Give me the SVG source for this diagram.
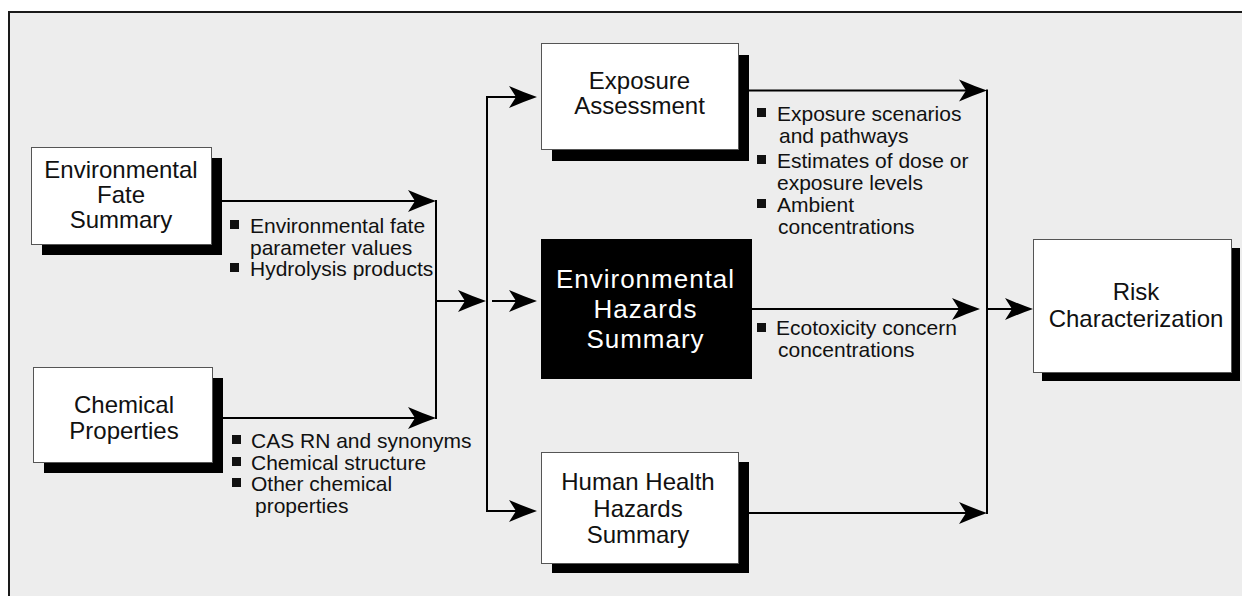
<svg xmlns="http://www.w3.org/2000/svg" width="1242" height="596" viewBox="0 0 1242 596">
  <style>
    .frame { fill: #ededed; stroke: #1a1a1a; stroke-width: 2; }
    .box { fill: #ffffff; stroke: #555555; stroke-width: 1; }
    .shadow { fill: #000000; }
    .dark { fill: #000000; }
    .title { font-family: "Liberation Sans", Arial, Helvetica, sans-serif; font-size: 24px; fill: #111111; text-anchor: middle; }
    .title-inv { font-family: "Liberation Sans", Arial, Helvetica, sans-serif; font-size: 26px; letter-spacing: 1px; fill: #ffffff; text-anchor: middle; }
    .label { font-family: "Liberation Sans", Arial, Helvetica, sans-serif; font-size: 21px; fill: #111111; }
    .bullet { fill: #111111; }
    .wire { fill: none; stroke: #000000; stroke-width: 2; }
  </style>
  <defs>
    <!-- barbed arrowhead; the tip sits 8px past the end of the line -->
    <marker id="arrow" markerUnits="userSpaceOnUse" viewBox="-21 -12 30 24" refX="0" refY="0" markerWidth="30" markerHeight="24" orient="auto">
      <path d="M8,0 Q-5,-4.5 -20,-11 L-13,0 L-20,11 Q-5,4.5 8,0 Z" fill="#000000"/>
    </marker>
  </defs>

  <!-- page background and frame -->
  <rect class="frame" x="9" y="12" width="1245" height="600"/>

  <!-- connectors -->
  <g id="connectors">
    <path class="wire" d="M222,201 H428" marker-end="url(#arrow)"/>
    <path class="wire" d="M223,418 H428" marker-end="url(#arrow)"/>
    <path class="wire" d="M436,200 V419"/>
    <path class="wire" d="M436,301 H478" marker-end="url(#arrow)"/>
    <path class="wire" d="M487,96 V512"/>
    <path class="wire" d="M486,97 H529" marker-end="url(#arrow)"/>
    <path class="wire" d="M486,511 H529" marker-end="url(#arrow)"/>
    <path class="wire" d="M492,301 H529" marker-end="url(#arrow)"/>
    <path class="wire" d="M749,90.5 H979" marker-end="url(#arrow)"/>
    <path class="wire" d="M752,309 H972" marker-end="url(#arrow)"/>
    <path class="wire" d="M749,513 H979" marker-end="url(#arrow)"/>
    <path class="wire" d="M987,89.5 V514"/>
    <path class="wire" d="M986,309 H1025" marker-end="url(#arrow)"/>
  </g>

  <!-- bullet lists carried along the connectors -->
  <g id="connector-labels">
    <rect class="bullet" x="230" y="220" width="9" height="9"/>
    <text class="label" x="250" y="233">Environmental fate</text>
    <text class="label" x="250" y="254.5">parameter values</text>
    <rect class="bullet" x="230" y="263" width="9" height="9"/>
    <text class="label" x="250" y="276">Hydrolysis products</text>

    <rect class="bullet" x="232" y="435" width="9" height="9"/>
    <text class="label" x="251" y="448">CAS RN and synonyms</text>
    <rect class="bullet" x="232" y="457" width="9" height="9"/>
    <text class="label" x="251" y="469.5">Chemical structure</text>
    <rect class="bullet" x="232" y="478" width="9" height="9"/>
    <text class="label" x="251" y="491">Other chemical</text>
    <text class="label" x="255" y="512.5">properties</text>

    <rect class="bullet" x="757" y="108" width="9" height="9"/>
    <text class="label" x="777" y="121">Exposure scenarios</text>
    <text class="label" x="779" y="143">and pathways</text>
    <rect class="bullet" x="757" y="155" width="9" height="9"/>
    <text class="label" x="777" y="168">Estimates of dose or</text>
    <text class="label" x="777" y="190">exposure levels</text>
    <rect class="bullet" x="757" y="199" width="9" height="9"/>
    <text class="label" x="777" y="212">Ambient</text>
    <text class="label" x="778" y="234">concentrations</text>

    <rect class="bullet" x="757" y="323" width="9" height="9"/>
    <text class="label" x="776" y="335">Ecotoxicity concern</text>
    <text class="label" x="778" y="357">concentrations</text>
  </g>

  <g id="node-env-fate">
    <rect class="shadow" x="42" y="158" width="180" height="97"/>
    <rect class="box" x="31.5" y="147.5" width="180" height="97"/>
    <text class="title" x="121" y="177.5">Environmental</text>
    <text class="title" x="121" y="202.5">Fate</text>
    <text class="title" x="121" y="227.5">Summary</text>
  </g>

  <g id="node-chem-props">
    <rect class="shadow" x="44" y="378" width="179" height="95"/>
    <rect class="box" x="33.5" y="367.5" width="179" height="95"/>
    <text class="title" x="124" y="413">Chemical</text>
    <text class="title" x="124" y="438.5">Properties</text>
  </g>

  <g id="node-exposure">
    <rect class="shadow" x="552" y="55" width="197" height="106"/>
    <rect class="box" x="541.5" y="43.5" width="197" height="106"/>
    <text class="title" x="639.5" y="88.5">Exposure</text>
    <text class="title" x="639.5" y="114">Assessment</text>
  </g>

  <g id="node-env-hazards">
    <rect class="dark" x="541" y="239" width="211" height="140"/>
    <text class="title-inv" x="645.5" y="288">Environmental</text>
    <text class="title-inv" x="645.5" y="318">Hazards</text>
    <text class="title-inv" x="645.5" y="348">Summary</text>
  </g>

  <g id="node-human-health">
    <rect class="shadow" x="552" y="462" width="197" height="111"/>
    <rect class="box" x="541.5" y="452.5" width="197" height="111"/>
    <text class="title" x="638" y="490">Human Health</text>
    <text class="title" x="638" y="516.5">Hazards</text>
    <text class="title" x="638" y="543">Summary</text>
  </g>

  <g id="node-risk">
    <rect class="shadow" x="1042" y="248" width="198" height="133"/>
    <rect class="box" x="1033.5" y="239.5" width="198" height="133"/>
    <text class="title" x="1136" y="300">Risk</text>
    <text class="title" x="1136" y="327">Characterization</text>
  </g>
</svg>
